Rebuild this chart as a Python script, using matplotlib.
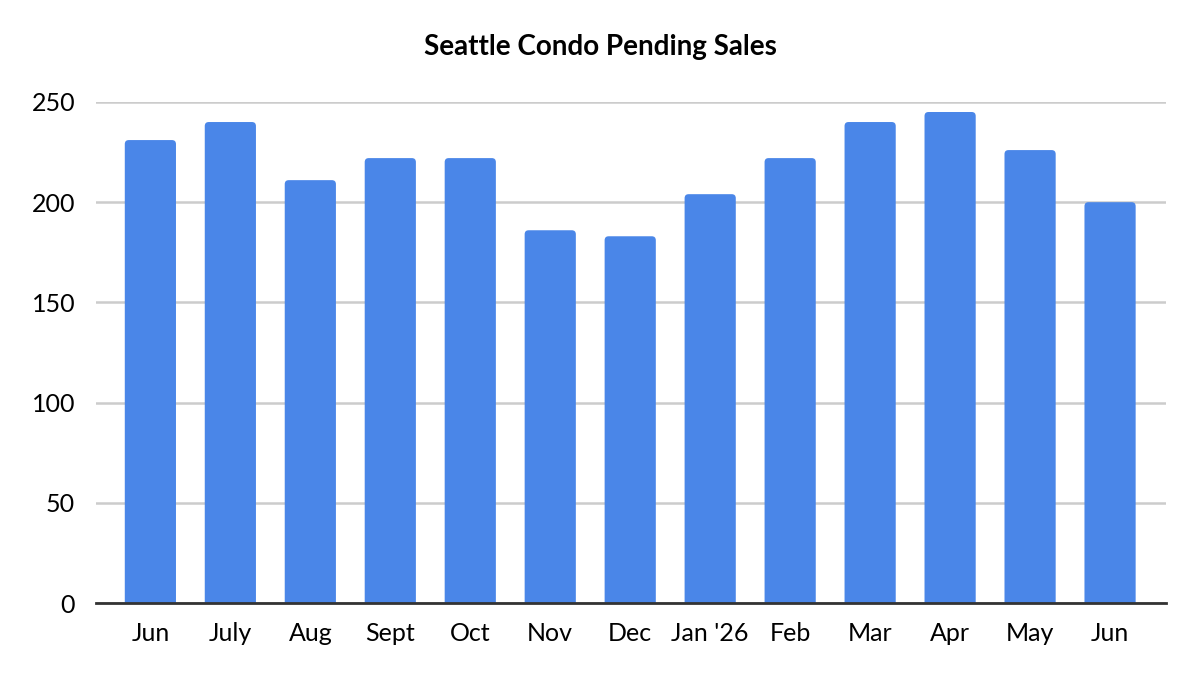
import matplotlib.pyplot as plt
from matplotlib.patches import FancyBboxPatch

months = ["Jun", "July", "Aug", "Sept", "Oct", "Nov", "Dec", "Jan '26",
          "Feb", "Mar", "Apr", "May", "Jun"]
pending_sales = [231, 240, 211, 222, 222, 186, 183, 204, 222, 240, 245, 226, 200]
y_ticks = [0, 50, 100, 150, 200, 250]

BAR_COLOR = "#4a86e8"
FONT = ["Lato", "DejaVu Sans"]


def main() -> None:
    plt.rcParams["font.family"] = FONT
    fig = plt.figure(figsize=(12, 6.84), dpi=100)
    ax = fig.add_axes([0.08, 0.1184, 0.8917, 0.7325])

    x = list(range(len(months)))
    width = 0.64
    ax.set_xlim(-0.68, len(months) - 0.3)
    ax.set_ylim(0, 250)

    # rounded tops: px per unit x = 80, y ~ 2.0 -> aspect ~40
    for xi, val in zip(x, pending_sales):
        patch = FancyBboxPatch((xi - width / 2, -10), width, val + 10,
                               boxstyle="round,pad=0,rounding_size=0.05",
                               mutation_aspect=40,
                               facecolor=BAR_COLOR, edgecolor="none", zorder=2)
        ax.add_patch(patch)

    ax.set_yticks(y_ticks)
    ax.set_xticks(x)
    ax.set_xticklabels(months)
    ax.tick_params(axis="both", length=0, labelsize=18, colors="black")
    ax.tick_params(axis="x", pad=14)
    ax.tick_params(axis="y", pad=15)

    ax.grid(axis="y", color="#cccccc", linewidth=1.8, zorder=0)
    ax.set_axisbelow(True)
    for side in ["top", "right", "left"]:
        ax.spines[side].set_visible(False)
    ax.spines["bottom"].set_color("#333333")
    ax.spines["bottom"].set_linewidth(2)
    ax.spines["bottom"].set_zorder(3)

    fig.text(0.5, 0.931, "Seattle Condo Pending Sales", ha="center", va="center",
             fontsize=20, fontweight="bold")

    fig.savefig("out.png", dpi=100)


if __name__ == "__main__":
    main()
